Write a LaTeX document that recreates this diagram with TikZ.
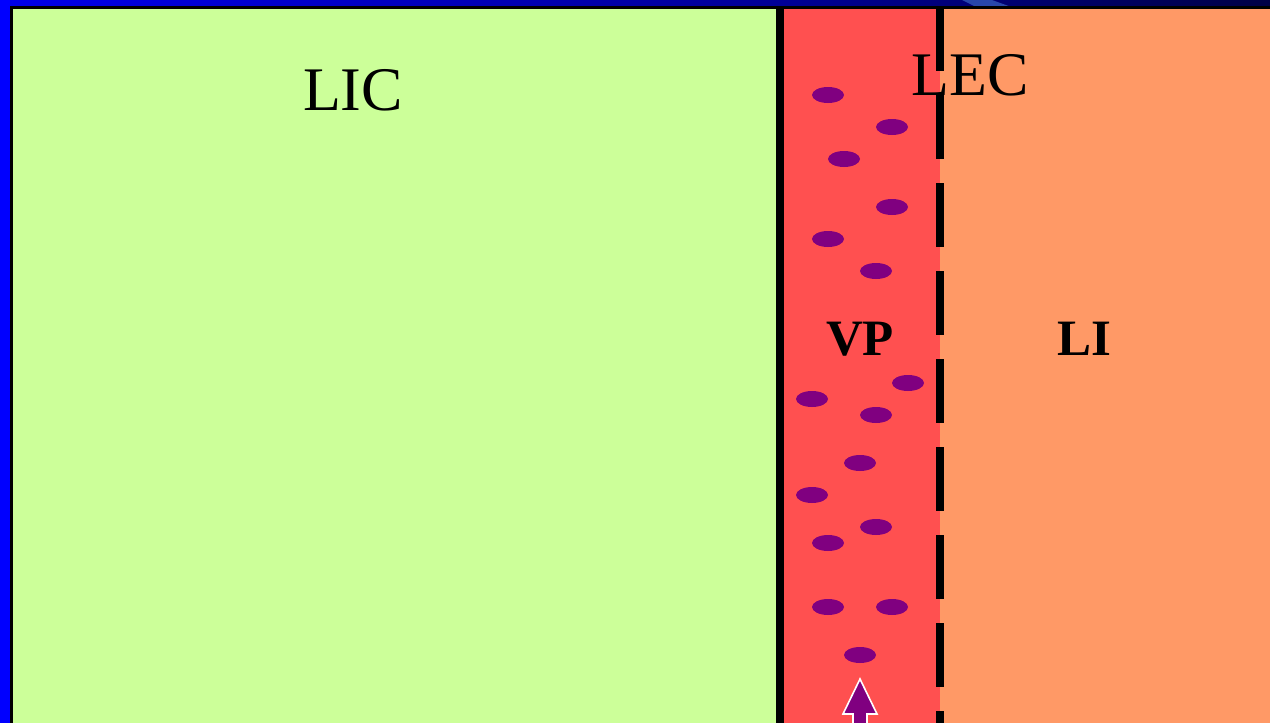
\documentclass[tikz,border=0pt]{standalone}
\usepackage{fontspec}
\setmainfont{Liberation Serif}
\definecolor{licgreen}{RGB}{204,255,153}
\definecolor{vpred}{RGB}{255,80,80}
\definecolor{liorange}{RGB}{255,153,102}
\definecolor{dot}{RGB}{128,0,128}
\definecolor{topblue}{RGB}{0,0,235}
\definecolor{topnavy}{RGB}{0,0,150}
\definecolor{topdark}{RGB}{0,0,70}
\definecolor{streak}{RGB}{40,70,170}
\tikzset{
  cell/.style={ellipse, fill=dot, minimum width=32pt, minimum height=16pt, inner sep=0pt, draw=none},
  bigtext/.style={font=\fontsize{62}{62}\selectfont, inner sep=0pt, anchor=base},
  boldtext/.style={font=\fontsize{51}{51}\selectfont\bfseries, inner sep=0pt, anchor=base},
}
\usetikzlibrary{shapes.geometric}
\begin{document}
\begin{tikzpicture}[x=1pt,y=-1pt]
\useasboundingbox (0,0) rectangle (1270,723);
\clip (0,0) rectangle (1270,723);
% regions
\fill[licgreen] (10,0) rectangle (780,723);
\fill[vpred] (780,0) rectangle (940,723);
\fill[liorange] (940,0) rectangle (1270,723);
% top strip with gradient
\shade[left color=topblue, right color=topnavy] (0,0) rectangle (780,6.5);
\shade[left color=topnavy, right color=topdark] (780,0) rectangle (1270,6.5);
\fill[streak] (962,0) -- (992,0) -- (1010,6.5) -- (975,6.5) -- cycle;
\fill[black] (0,6) rectangle (1270,8.5);
% left strip
\fill[blue] (0,0) rectangle (10,723);
\fill[black] (10,6) rectangle (12.5,723);
% membrane
\draw[line width=7.5pt] (780,7) -- (780,723);
\draw[line width=8pt, dash pattern=on 64pt off 24pt] (940,7) -- (940,723);
% cells
\foreach \cx/\cy [count=\i] in {828/95, 892/127, 844/159, 892/207, 828/239, 876/271,
  908/383, 812/399, 876/415, 860/463, 812/495, 876/527, 828/543, 828/607, 892/607, 860/655}
  \node[cell] (c\i) at (\cx,\cy) {};
% arrow
\filldraw[fill=dot, draw=white, line width=1.6pt, line join=miter]
  (860,679) -- (877,714) -- (867,714) -- (867,730) -- (853,730) -- (853,714) -- (843,714) -- cycle;
% labels
\node[bigtext] (lic) at (353,110) {LIC};
\node[bigtext] (lec) at (970,95) {LEC};
\node[boldtext] (vp) at (860,355) {VP};
\node[boldtext] (li) at (1084,355) {LI};
\end{tikzpicture}
\end{document}
